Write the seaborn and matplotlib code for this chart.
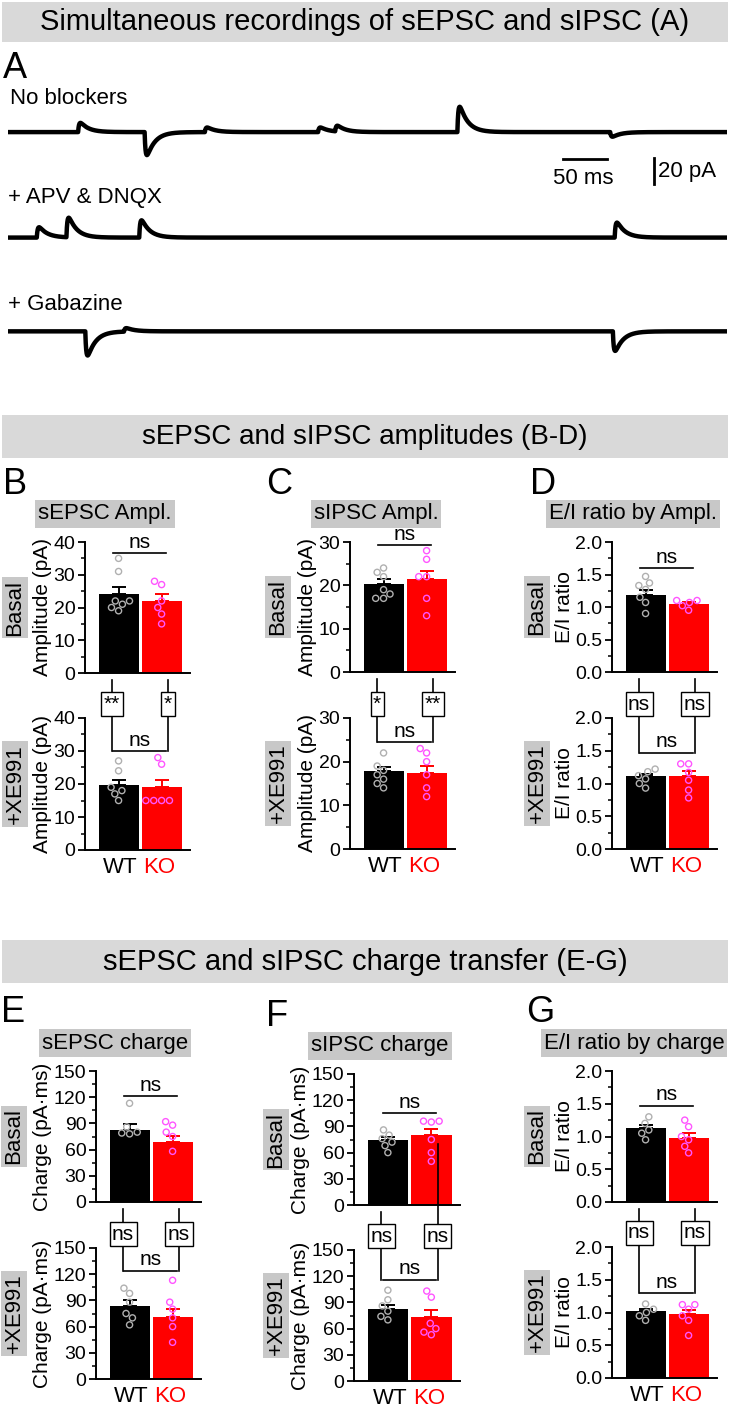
import numpy as np
import pandas as pd
import seaborn as sns
import matplotlib
matplotlib.use("Agg")
import matplotlib.pyplot as plt
from matplotlib.patches import Rectangle

W, H = 730, 1407
plt.rcParams['font.family'] = ['Liberation Sans', 'DejaVu Sans']

# ---- traces (A): spontaneous events, (time ms, amplitude pA)
trace_names = ['No blockers', '+ APV & DNQX', '+ Gabazine']
events_nob = [(78, 8), (152, -20), (219, 4), (345, 4), (364, 5), (500, 22), (670, -4)]
events_apv = [(32, 9), (65, 17), (146, 15), (675, 13)]
events_gbz = [(86, -21), (129, 3), (673, -17)]

# ---- bar data: (mean, sem, points) per genotype
groups = ['WT', 'KO']
B_basal = {'WT': (24.0, 2.3, [35, 31, 22, 21, 22, 20, 19]), 'KO': (22.0, 2.0, [28, 27, 22, 20, 18, 15])}
B_xe = {'WT': (19.8, 1.5, [27, 24, 19, 18, 17, 15]), 'KO': (19.2, 2.0, [28, 26, 15, 15, 15, 15])}
C_basal = {'WT': (20.3, 1.1, [24, 23, 22, 19, 18, 17, 17]), 'KO': (21.4, 1.9, [28, 26, 22, 22, 17, 13])}
C_xe = {'WT': (17.8, 0.9, [22, 19, 18, 17, 16, 15, 14]), 'KO': (17.4, 1.5, [23, 22, 20, 17, 14, 12])}
D_basal = {'WT': (1.19, 0.07, [1.47, 1.37, 1.33, 1.27, 1.15, 1.07, 0.90]), 'KO': (1.04, 0.03, [1.10, 1.10, 1.07, 1.02, 0.95])}
D_xe = {'WT': (1.11, 0.04, [1.22, 1.18, 1.12, 1.07, 1.00, 0.93]), 'KO': (1.11, 0.08, [1.30, 1.30, 1.17, 1.05, 0.90, 0.78])}
E_basal = {'WT': (83, 6, [113, 86, 80, 78, 79]), 'KO': (69, 7, [92, 88, 80, 75, 58])}
E_xe = {'WT': (84, 6, [104, 98, 88, 75, 70, 62]), 'KO': (71, 9, [113, 88, 80, 70, 60, 42])}
F_basal = {'WT': (74, 4, [86, 80, 76, 72, 68, 60]), 'KO': (80, 7, [96, 96, 95, 75, 60, 50])}
F_xe = {'WT': (83, 4, [104, 93, 86, 80, 74, 70]), 'KO': (73, 8, [103, 96, 66, 60, 56, 53])}
G_basal = {'WT': (1.13, 0.05, [1.30, 1.20, 1.10, 1.05, 0.95]), 'KO': (0.98, 0.07, [1.25, 1.15, 1.00, 0.95, 0.85, 0.75])}
G_xe = {'WT': (1.02, 0.03, [1.13, 1.05, 1.00, 0.95, 0.88]), 'KO': (0.98, 0.06, [1.12, 1.12, 1.05, 0.95, 0.88, 0.65])}

fig = plt.figure(figsize=(W / 100, H / 100), dpi=100)


def rect(x0, y0, x1, y1):
    return [x0 / W, 1 - y1 / H, (x1 - x0) / W, (y1 - y0) / H]


def to_px(ax, x, y):
    dx, dy = ax.transData.transform((x, y))
    return dx, H - dy


# ---- trace panel
tax = fig.add_axes(rect(8, 80, 727, 360))
t = np.arange(0, 800, 0.5)
baselines = [175, 94, 22]
for base, evs in zip(baselines, [events_nob, events_apv, events_gbz]):
    y = np.full_like(t, base, dtype=float)
    for t0, a in evs:
        dt = t - t0
        k = np.where(dt > 0, (1 - np.exp(-dt / 1.2)) * np.exp(-dt / 9.0), 0)
        y += a * k / 0.75
    sns.lineplot(x=t, y=y, ax=tax, color='black', lw=3.2)
tax.set_xlim(0, 800)
tax.set_ylim(0, 215)
tax.axis('off')
# scale bars
tax.plot([617, 667], [154, 154], color='black', lw=2)
tax.plot([719, 719], [135, 155], color='black', lw=2)

# ---- bar panels
panels = [
    # letter, title, ylabel, ymax, yticks, basal, xe, x0, x1, ybands, brackets, sig, title x, row label x, letter x
    ('B', 'sEPSC Ampl.', 'Amplitude (pA)', 40, [0, 10, 20, 30, 40], B_basal, B_xe, 85, 190,
     (542, 673, 718, 850), (36.5, 30), ('**', '*'), 105, 15, 3),
    ('C', 'sIPSC Ampl.', 'Amplitude (pA)', 30, [0, 10, 20, 30], C_basal, C_xe, 350, 455,
     (542, 672, 718, 849), (29.3, 24.5), ('*', '**'), 376, 278, 266),
    ('D', 'E/I ratio by Ampl.', 'E/I ratio', 2.0, [0.0, 0.5, 1.0, 1.5, 2.0], D_basal, D_xe, 612, 717,
     (542, 672, 718, 849), (1.6, 1.47), ('ns', 'ns'), 633, 537, 530),
    ('E', 'sEPSC charge', 'Charge (pA·ms)', 150, [0, 30, 60, 90, 120, 150], E_basal, E_xe, 96, 201,
     (1071, 1202, 1248, 1379), (121, 124), ('ns', 'ns'), 115, 14, 1),
    ('F', 'sIPSC charge', 'Charge (pA·ms)', 150, [0, 30, 60, 90, 120, 150], F_basal, F_xe, 354, 460,
     (1074, 1205, 1250, 1381), (105, 116), ('ns', 'ns'), 380, 276, 266),
    ('G', 'E/I ratio by charge', 'E/I ratio', 2.0, [0.0, 0.5, 1.0, 1.5, 2.0], G_basal, G_xe, 612, 717,
     (1071, 1202, 1247, 1378), (1.47, 1.3), ('ns', 'ns'), 634, 537, 526),
]

ovl = []  # overlay items drawn later in pixel coords
for (let, title, ylab, ymax, yt, dbas, dxe, x0, x1, yb, brk, sig, tcx, rcx, lx) in panels:
    axs = []
    for i, d in enumerate([dbas, dxe]):
        ax = fig.add_axes(rect(x0, yb[2 * i], x1, yb[2 * i + 1]))
        means = [d[g][0] for g in groups]
        sns.barplot(x=groups, y=means, hue=groups, palette=['black', 'red'],
                    width=0.93, ax=ax, legend=False, saturation=1)
        pts = pd.DataFrame([(g, v) for g in groups for v in d[g][2]], columns=['g', 'v'])
        n0 = len(ax.collections)
        sns.swarmplot(data=pts, x='g', y='v', hue='g', palette=['#b0b0b0', '#ff55ff'],
                      size=4.4, ax=ax, legend=False, linewidth=0)
        for c in ax.collections[n0:]:
            fc = c.get_facecolors()
            c.set_edgecolors(fc)
            c.set_facecolors('none')
            c.set_linewidths(1.0)
        for j, g in enumerate(groups):
            ax.errorbar(j, d[g][0], yerr=[[0], [d[g][1]]], color=['black', 'red'][j],
                        capsize=5, lw=1.4, capthick=1.4)
        ax.set_xlim(-0.78, 1.66)
        ax.set_ylim(0, ymax)
        ax.set_yticks(yt)
        ax.set_yticks([(a + b) / 2 for a, b in zip(yt[:-1], yt[1:])], minor=True)
        if ymax < 3:
            ax.set_yticklabels([f'{v:.1f}' for v in yt])
        ax.tick_params(axis='y', labelsize=14, width=1.3, length=5, pad=2)
        ax.tick_params(axis='y', which='minor', width=1.1, length=3)
        ax.tick_params(axis='x', length=0, labelsize=16, pad=5)
        ax.set_ylabel(ylab, fontsize=15, labelpad=1)
        ax.set_xlabel('')
        sns.despine(ax=ax)
        for s in ['left', 'bottom']:
            ax.spines[s].set_linewidth(1.4)
        if i == 0:
            ax.set_xticks([])
        else:
            ax.set_xticks([0.05, 0.95])
            ax.set_xticklabels(['WT', 'KO'])
            ax.get_xticklabels()[1].set_color('red')
        # horizontal bracket
        ax.plot([-0.12, 1.1], [brk[i]] * 2, color='black', lw=1.2, clip_on=False)
        ax.text(0.49, brk[i] + ymax * 0.01, 'ns', ha='center', va='bottom', fontsize=15)
        axs.append(ax)
        # row label
        cy = (yb[2 * i] + yb[2 * i + 1]) / 2
        fig.text(rcx / W, 1 - cy / H, ['Basal', '+XE991'][i], rotation=90, ha='center',
                 va='center', fontsize=16,
                 bbox=dict(boxstyle='square,pad=0.12', fc='#c8c8c8', ec='none'))
    # connectors between rows
    for j, xx in enumerate([-0.15, 1.15]):
        px, ptop = to_px(axs[0], xx, 0)
        if let == 'F' and j == 1:
            _, ptop = to_px(axs[0], xx, 70)
        else:
            ptop += 7
        _, pbot = to_px(axs[1], xx, brk[1])
        ovl.append(('line', px, ptop, pbot))
        ovl.append(('box', px, yb[2] - 14, sig[j]))
    # panel title box and letter
    fig.text(tcx / W, 1 - (yb[0] - 28) / H, title, ha='center', va='center', fontsize=16,
             bbox=dict(boxstyle='square,pad=0.14', fc='#c8c8c8', ec='none'))
    fig.text(lx / W, 1 - (yb[0] - 58) / H, let, ha='left', va='center', fontsize=26)

# ---- overlay
ov = fig.add_axes([0, 0, 1, 1])
ov.set_xlim(0, W)
ov.set_ylim(H, 0)
ov.axis('off')
ov.patch.set_alpha(0)
for yy0, yy1, txt, fs in [(2, 42, 'Simultaneous recordings of sEPSC and sIPSC (A)', 21),
                          (415, 458, 'sEPSC and sIPSC amplitudes (B-D)', 20),
                          (940, 983, 'sEPSC and sIPSC charge transfer (E-G)', 21)]:
    ov.add_patch(Rectangle((2, yy0), 726, yy1 - yy0, fc='#d9d9d9', ec='none'))
    ov.text(365, (yy0 + yy1) / 2, txt, ha='center', va='center', fontsize=fs)
for it in ovl:
    if it[0] == 'line':
        ov.plot([it[1], it[1]], [it[2], it[3]], color='black', lw=1.2)
for it in ovl:
    if it[0] == 'box':
        ov.text(it[1], it[2], it[3], ha='center', va='center', fontsize=15,
                bbox=dict(boxstyle='square,pad=0.12', fc='white', ec='black', lw=1))

ov.text(3, 68, 'A', fontsize=26, va='center')
ov.text(10, 99, trace_names[0], fontsize=16, va='center')
ov.text(8, 197, trace_names[1], fontsize=16, va='center')
ov.text(8, 305, trace_names[2], fontsize=16, va='center')
ov.text(583, 178, '50 ms', fontsize=16, ha='center', va='center')
ov.text(658, 172, '20 pA', fontsize=16, ha='left', va='center')

fig.savefig('out.png', dpi=100)
